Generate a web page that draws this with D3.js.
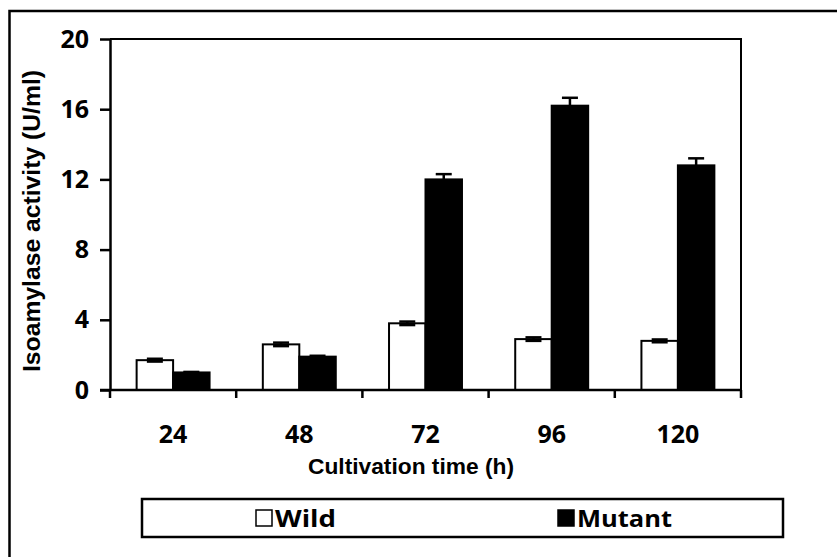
<!DOCTYPE html>
<html>
<head>
<meta charset="utf-8">
<script src="https://cdn.jsdelivr.net/npm/d3@7"></script>
<style>
  body { margin: 0; background: #fff; }
  svg { display: block; }
</style>
</head>
<body>
<div id="chart"></div>
<script>
const hours = ["24", "48", "72", "96", "120"];
const series = ["Wild", "Mutant"];
const wild = [1.7, 2.6, 3.8, 2.9, 2.8];
const mutant = [1.0, 1.9, 12.0, 16.2, 12.8];
const wildErr = [0.08, 0.1, 0.1, 0.1, 0.08];
const mutantErr = [0.03, 0.05, 0.3, 0.45, 0.4];
const yTicks = [0, 4, 8, 12, 16, 20];

const width = 837, height = 557;
const plot = { left: 110, right: 741, top: 39, bottom: 390 };
const numFont = "'Open Sans', Lato, sans-serif";
const titleFont = "'Liberation Sans', Arial, sans-serif";

const svg = d3.select("#chart").append("svg")
  .attr("width", width)
  .attr("height", height);

// outer frame (cut off on right/bottom like the source)
svg.append("rect")
  .attr("x", 9.5).attr("y", 11)
  .attr("width", 840).attr("height", 560)
  .attr("fill", "none").attr("stroke", "#000").attr("stroke-width", 2.5);

const x0 = d3.scaleBand().domain(hours).range([plot.left, plot.right]);
const x1 = d3.scaleBand().domain(series).range([0, x0.bandwidth()]).paddingOuter(0.73);
const y = d3.scaleLinear().domain([0, 20]).range([plot.bottom, plot.top]);
const color = d3.scaleOrdinal().domain(series).range(["#fff", "#000"]);

const rows = hours.map((h, i) => ({
  hour: h,
  vals: [
    { key: "Wild", v: wild[i], e: wildErr[i] },
    { key: "Mutant", v: mutant[i], e: mutantErr[i] },
  ],
}));

// plot frame top/right
svg.append("path")
  .attr("d", `M${plot.left},${plot.top}H${plot.right}V${plot.bottom}`)
  .attr("fill", "none").attr("stroke", "#000").attr("stroke-width", 2);

// bars
const g = svg.selectAll("g.grp")
  .data(rows)
  .enter().append("g")
  .attr("class", "grp")
  .attr("transform", (d) => `translate(${x0(d.hour)},0)`);

g.selectAll("rect")
  .data((d) => d.vals)
  .enter().append("rect")
  .attr("x", (d) => x1(d.key))
  .attr("y", (d) => y(d.v))
  .attr("width", x1.bandwidth())
  .attr("height", (d) => y(0) - y(d.v))
  .attr("fill", (d) => color(d.key))
  .attr("stroke", "#000")
  .attr("stroke-width", 2);

// error bars
const capW = 16;
const mid = (d) => x1(d.key) + x1.bandwidth() / 2;
const eb = g.selectAll("g.err")
  .data((d) => d.vals)
  .enter().append("g")
  .attr("class", "err")
  .attr("stroke", "#000")
  .attr("stroke-width", 2.5);
eb.append("line")
  .attr("x1", mid).attr("x2", mid)
  .attr("y1", (d) => y(d.v - d.e))
  .attr("y2", (d) => y(d.v + d.e));
eb.append("line")
  .attr("x1", (d) => mid(d) - capW / 2)
  .attr("x2", (d) => mid(d) + capW / 2)
  .attr("y1", (d) => y(d.v + d.e))
  .attr("y2", (d) => y(d.v + d.e));
eb.append("line")
  .attr("x1", (d) => mid(d) - capW / 2)
  .attr("x2", (d) => mid(d) + capW / 2)
  .attr("y1", (d) => y(d.v - d.e))
  .attr("y2", (d) => y(d.v - d.e));

// y axis
const yAxis = svg.append("g")
  .attr("transform", `translate(${plot.left},0)`)
  .call(d3.axisLeft(y).tickValues(yTicks).tickSize(10).tickPadding(11).tickSizeOuter(0));
yAxis.select(".domain").attr("stroke-width", 2.5);
yAxis.selectAll(".tick line").attr("stroke-width", 2.5);
yAxis.selectAll("text")
  .attr("font-family", numFont).attr("font-weight", "bold")
  .attr("font-size", 25).attr("fill", "#000");

// x axis: ticks at category boundaries
const xAxis = svg.append("g")
  .attr("transform", `translate(0,${plot.bottom})`);
xAxis.append("line")
  .attr("x1", plot.left - 10).attr("x2", plot.right)
  .attr("stroke", "#000").attr("stroke-width", 2.5);
xAxis.selectAll("line.tk")
  .data(hours.concat(["end"]))
  .enter().append("line")
  .attr("class", "tk")
  .attr("x1", (d, i) => plot.left + i * x0.step())
  .attr("x2", (d, i) => plot.left + i * x0.step())
  .attr("y1", 0).attr("y2", 8)
  .attr("stroke", "#000").attr("stroke-width", 2.5);
xAxis.selectAll("text")
  .data(hours)
  .enter().append("text")
  .attr("x", (d) => x0(d) + x0.bandwidth() / 2)
  .attr("y", 53)
  .attr("text-anchor", "middle")
  .attr("font-family", numFont).attr("font-weight", "bold")
  .attr("font-size", 25)
  .text((d) => d);

// axis titles
svg.append("text")
  .attr("x", 411).attr("y", 474)
  .attr("text-anchor", "middle")
  .attr("font-family", titleFont).attr("font-weight", "bold")
  .attr("font-size", 22)
  .attr("textLength", 206).attr("lengthAdjust", "spacingAndGlyphs")
  .text("Cultivation time (h)");

svg.append("text")
  .attr("transform", "translate(40,221) rotate(-90)")
  .attr("text-anchor", "middle")
  .attr("font-family", titleFont).attr("font-weight", "bold")
  .attr("font-size", 23)
  .attr("textLength", 302).attr("lengthAdjust", "spacingAndGlyphs")
  .text("Isoamylase activity (U/ml)");

// legend
const legend = svg.append("g");
legend.append("rect")
  .attr("x", 142).attr("y", 499)
  .attr("width", 641).attr("height", 38)
  .attr("fill", "#fff").attr("stroke", "#000").attr("stroke-width", 2.5);
const legendX = [256, 558];
const legendLen = [61, 95];
const items = legend.selectAll("g.item")
  .data(series)
  .enter().append("g")
  .attr("class", "item")
  .attr("transform", (d, i) => `translate(${legendX[i]},510)`);
items.append("rect")
  .attr("width", 16).attr("height", 16)
  .attr("fill", (d) => color(d))
  .attr("stroke", "#000").attr("stroke-width", 1.5);
items.append("text")
  .attr("x", 19).attr("y", 17)
  .attr("font-family", numFont).attr("font-weight", "bold")
  .attr("font-size", 24)
  .attr("textLength", (d, i) => legendLen[i]).attr("lengthAdjust", "spacingAndGlyphs")
  .text((d) => d);
</script>
</body>
</html>
